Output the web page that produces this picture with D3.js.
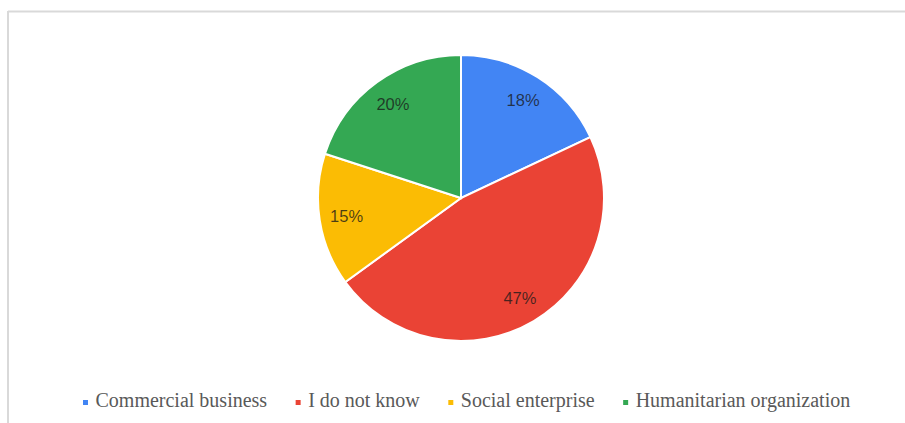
<!DOCTYPE html>
<html>
<head>
<meta charset="utf-8">
<script src="https://cdn.jsdelivr.net/npm/d3@7"></script>
<style>
  html, body { margin: 0; padding: 0; background: #fff; }
  svg { display: block; }
</style>
</head>
<body>
<svg id="chart" width="905" height="423"></svg>
<script>
// Survey answers: how respondents classify the organisation
const categories = ["Commercial business", "I do not know", "Social enterprise", "Humanitarian organization"];
const shares = [18, 47, 15, 20];
const colors = ["#4285F4", "#EA4335", "#FBBC04", "#34A853"];

const svg = d3.select("#chart");
const W = 905, H = 423;

// light frame on the top and left edges
svg.append("line").attr("x1", 8).attr("x2", W).attr("y1", 11.5).attr("y2", 11.5)
  .attr("stroke", "#d9d9d9").attr("stroke-width", 2);
svg.append("line").attr("x1", 8).attr("x2", 8).attr("y1", 11).attr("y2", H)
  .attr("stroke", "#d9d9d9").attr("stroke-width", 2);

const cx = 461, cy = 198, R = 143;
const data = categories.map((c, i) => ({ name: c, value: shares[i], color: colors[i] }));

const pie = d3.pie().value(d => d.value).sort(null);
const arc = d3.arc().innerRadius(0).outerRadius(R);
const labelArc = d3.arc().innerRadius(R * 0.81).outerRadius(R * 0.81);

const g = svg.append("g").attr("transform", `translate(${cx},${cy})`);
const arcs = pie(data);

g.selectAll("path.slice").data(arcs).join("path")
  .attr("class", "slice")
  .attr("d", arc)
  .attr("fill", d => d.data.color)
  .attr("stroke", "#fff")
  .attr("stroke-width", 2);

g.selectAll("text.pct").data(arcs).join("text")
  .attr("class", "pct")
  .attr("transform", d => `translate(${labelArc.centroid(d)})`)
  .attr("text-anchor", "middle")
  .attr("dominant-baseline", "central")
  .attr("font-family", "Arial, 'Liberation Sans', sans-serif")
  .attr("font-size", 16.5)
  .attr("fill", "#1a1a1a")
  .attr("fill-opacity", 0.78)
  .text(d => d3.format(".0%")(d.data.value / 100));

// legend row under the pie
const legend = svg.append("g");
const items = legend.selectAll("g.item").data(data).join("g").attr("class", "item");
items.append("rect")
  .attr("width", 5).attr("height", 5)
  .attr("y", -7)
  .attr("fill", d => d.color);
items.append("text")
  .attr("x", 12.5)
  .attr("font-family", "'Liberation Serif', 'Times New Roman', serif")
  .attr("font-size", 20)
  .attr("fill", "#595959")
  .text(d => d.name);

const gap = 28.5;
let x = 0;
items.each(function () {
  const w = 12.5 + this.querySelector("text").getComputedTextLength();
  d3.select(this).attr("transform", `translate(${x},0)`);
  x += w + gap;
});
legend.attr("transform", "translate(83,407)");
</script>
</body>
</html>
